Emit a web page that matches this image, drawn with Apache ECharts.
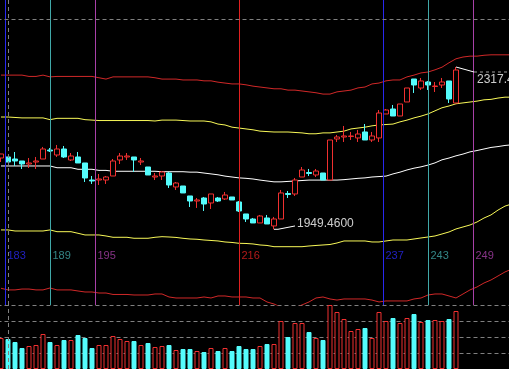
<!DOCTYPE html>
<html><head><meta charset="utf-8">
<script src="https://cdn.jsdelivr.net/npm/echarts@6/dist/echarts.min.js"></script>
<style>html,body{margin:0;padding:0;background:#000;}#c{width:509px;height:369px;}</style>
</head><body><div id="c"></div>
<script>
// ---- DATA ----
// candles: [open, close, low, high]
const candles = [
[2111.1,2120.2,2102.0,2120.5],[2113.4,2102.0,2102.0,2113.4],[2108.8,2104.3,2093.0,2124.7],[2104.3,2097.5,2086.2,2104.3],[2097.5,2099.8,2088.4,2111.1],
[2102.0,2104.3,2086.2,2113.4],[2108.8,2131.5,2108.8,2136.1],[2129.2,2127.0,2124.7,2133.8],[2117.9,2131.5,2113.4,2140.6],[2131.5,2113.4,2111.1,2138.3],
[2106.6,2115.6,2104.3,2122.4],[2113.4,2099.8,2099.8,2124.7],[2099.8,2065.8,2056.7,2099.8],[2061.2,2059.0,2052.2,2070.3],[2061.2,2063.5,2049.9,2074.8],
[2061.2,2068.0,2052.2,2070.3],[2070.3,2104.3,2070.3,2108.8],[2106.6,2115.6,2097.5,2122.4],[2113.4,2115.6,2106.6,2122.4],[2113.4,2106.6,2079.4,2113.4],
[2102.0,2104.3,2095.2,2111.1],[2090.7,2072.6,2072.6,2090.7],[2068.0,2070.3,2061.2,2077.1],[2070.3,2079.4,2061.2,2081.6],[2077.1,2049.9,2043.1,2079.4],
[2045.4,2054.4,2038.6,2056.7],[2047.6,2031.8,2031.8,2047.6],[2025.0,2013.6,2000.0,2025.0],[2013.6,2015.9,1997.8,2020.4],[2020.4,2006.8,1991.0,2022.7],
[2009.1,2029.5,1995.5,2029.5],[2020.4,2013.6,2011.4,2022.7],[2018.2,2027.2,2015.9,2034.0],[2022.7,2015.9,2015.9,2022.7],[2011.4,1991.0,1988.7,2013.6],
[1984.2,1972.8,1966.0,1984.2],[1972.8,1963.8,1963.8,1975.1],[1963.8,1979.6,1963.8,1981.9],[1975.1,1961.5,1961.5,1981.9],[1957.0,1972.8,1949.46,1977.4],
[1972.8,2031.8,1972.8,2038.6],[2030.6,2028.4,2020.4,2036.3],[2029.5,2061.2,2025.0,2065.8],[2068.0,2083.9,2068.0,2090.7],[2078.2,2076.0,2070.3,2086.2],
[2072.6,2081.6,2068.0,2086.2],[2077.1,2061.2,2061.2,2077.1],[2061.2,2151.9,2061.2,2151.9],[2154.2,2158.7,2147.4,2163.3],[2158.7,2161.0,2147.4,2183.7],
[2159.9,2161.0,2151.9,2170.1],[2156.5,2165.5,2147.4,2174.6],[2170.1,2151.9,2151.9,2188.2],[2151.9,2161.0,2147.4,2170.1],[2156.5,2213.1,2147.4,2219.9],
[2210.9,2219.9,2210.9,2222.2],[2222.2,2206.3,2206.3,2231.3],[2206.3,2233.5,2206.3,2233.5],[2238.1,2269.8,2238.1,2269.8],[2290.2,2276.6,2258.5,2290.2],
[2269.8,2285.7,2265.3,2292.5],[2283.4,2276.6,2265.3,2285.7],[2273.2,2274.3,2260.7,2283.4],[2276.6,2283.4,2269.8,2292.5],[2285.7,2244.9,2235.8,2285.7],
[2235.8,2310.6,2235.8,2317.4]
];
const volumes = [
1550,1500,1350,1050,1150,1200,1750,1350,1200,1450,
1450,1700,1550,1050,1200,1200,1650,1500,1400,1400,
1200,1300,1100,1150,1200,950,1000,1000,900,850,
1050,900,1050,900,1150,1000,1000,1150,1250,1250,
2400,1600,2300,2300,1850,1550,1450,3200,2850,2500,
1900,2000,2050,1550,2850,2400,2550,2300,2550,2750,
2350,2450,2450,2400,2500,2900
];
const bandRedUpper = [
2299,2299,2299,2299,2296,2296,2299,2295,2296,2296,
2296,2296,2296,2296,2293,2290,2295,2295,2295,2295,
2295,2295,2293,2290,2290,2290,2288,2288,2288,2286,
2286,2283,2281,2279,2279,2277,2274,2272,2270,2268,
2268,2265,2265,2263,2261,2259,2256,2256,2261,2263,
2265,2270,2272,2279,2281,2286,2288,2288,2295,2299,
2304,2306,2311,2317,2327,2336,2340,2342,2342,2344,
2345,2345,2345,2345
];
const bandYellowUpper = [
2204,2204,2203,2202,2202,2202,2202,2198,2201,2201,
2201,2201,2198,2197,2196,2196,2196,2196,2196,2196,
2196,2196,2195,2197,2197,2197,2196,2195,2195,2195,
2193,2188,2186,2181,2179,2177,2175,2172,2171,2170,
2170,2170,2169,2168,2166,2166,2168,2168,2170,2172,
2177,2179,2181,2184,2186,2187,2188,2193,2197,2202,
2206,2211,2218,2225,2229,2234,2236,2238,2240,2243,
2244,2247,2249,2249
];
const bandMiddle = [
2093,2093,2093,2093,2093,2093,2093,2093,2089,2089,
2089,2085.5,2085.5,2085.5,2083,2083,2081,2081,2081,2081,
2081,2081,2081,2080,2080,2080,2080,2079,2079,2077,
2075,2073,2070,2068,2066,2065,2063.5,2061,2059,2057,
2057,2058,2059,2060,2061,2061,2061,2061,2061,2062,
2063.5,2065,2066,2068,2069,2070,2075,2079,2084,2088,
2091,2095,2100,2107,2111,2116,2120,2125,2128,2131.5,
2135,2137,2139.5,2141
];
const bandYellowLower = [
1948,1948,1945.6,1945.6,1945.6,1945.6,1945.6,1948,1944,1944,
1944,1940.4,1936.6,1936.6,1936.6,1934.3,1931.3,1931.3,1931.3,1929.1,
1929.1,1929.1,1931.3,1932.7,1932,1931,1929,1927.5,1926.8,1925.2,
1924.1,1923,1920.7,1919.6,1917.7,1917.3,1916.2,1913.9,1912.8,1910,
1910,1910,1910,1910,1911.6,1912.8,1913.9,1915,1918.4,1923,
1923,1923,1923,1920.7,1920.7,1923,1925.2,1925.2,1925.2,1927.5,
1929.8,1932,1934.3,1938.8,1943.4,1950.2,1954.7,1959.2,1966,1975,
1982,1993,2002,2007
];
const bandRedLower = [
1815.7,1812,1812,1814,1814,1812,1812,1816.4,1812,1812,
1812,1809.6,1807.3,1807.3,1805,1805,1801.7,1801.7,1801.7,1800.5,
1800.5,1800.5,1802.8,1802.8,1796,1793.7,1793.7,1793.7,1793.7,1796,
1793.7,1798.3,1798.3,1796,1796,1796,1793.7,1793.7,1784.7,1780,
1773,1769,1771,1778,1784.7,1793.7,1796,1791.5,1789,1791.5,
1791.5,1791.5,1791.5,1789,1784.7,1787,1787,1787,1787,1791.5,
1793.7,1800.5,1802.8,1802.8,1798.3,1793.7,1802.8,1812,1818.7,1827.7,
1834.5,1843.6,1852.7,1859.5
];
const cycleLabels = ['183','189','195','216','237','243','249'];
const cyclePositions = [0.64, 7.07, 13.5, 34.07, 54.64, 61.07, 67.5];
const cycleColors = ['#2828f0','#40a8a8','#a840a8','#e02020','#2828f0','#40a8a8','#a840a8'];
const categories = Array.from({length: 74}, (_, i) => String(i));

// ---- STYLE / LAYOUT ----
const RED = '#f03030', CYAN = '#54fcfc', GRAY = '#808080';
const PRICE_MIN = 1777.8, PRICE_MAX = 2469.3, MAIN_H = 305;
const perPx = (PRICE_MAX - PRICE_MIN) / MAIN_H;
const cycleLabelLevel = PRICE_MAX - 256 * perPx;
const crossX = 1.07, crossPrice = PRICE_MAX - 19.5 * perPx;

let lowIdx = 0, highIdx = 0;
candles.forEach((c, i) => { if (c[2] < candles[lowIdx][2]) lowIdx = i; if (c[3] > candles[highIdx][3]) highIdx = i; });
const lowVal = candles[lowIdx][2], highVal = candles[highIdx][3];
const font = 'Liberation Sans';

const chart = echarts.init(document.getElementById('c'));
const bands = [
  {d: bandRedUpper, c: '#d02828'}, {d: bandYellowUpper, c: '#f8f858'}, {d: bandMiddle, c: '#ffffff'},
  {d: bandYellowLower, c: '#f8f858'}, {d: bandRedLower, c: '#d02828'}
];
const dashed = {color: GRAY, width: 1, type: [4, 3]};
const lowEnd = [lowIdx + 3.0, lowVal + 7.5];
const highEnd = [highIdx + 2.57, highVal - 5 * perPx];
chart.setOption({
  animation: false,
  backgroundColor: '#000',
  grid: [
    {left: -2.5, top: 0, width: 518, height: MAIN_H, outerBoundsMode: 'none', containLabel: false},
    {left: -2.5, top: MAIN_H, width: 518, height: 64, outerBoundsMode: 'none', containLabel: false}
  ],
  xAxis: [
    {type: 'category', gridIndex: 0, data: categories, show: false},
    {type: 'category', gridIndex: 1, data: categories, show: false},
    {type: 'value', gridIndex: 0, min: -0.5, max: 73.5, show: false},
    {type: 'value', gridIndex: 1, min: -0.5, max: 73.5, show: false}
  ],
  yAxis: [
    {type: 'value', gridIndex: 0, min: PRICE_MIN, max: PRICE_MAX, show: false, splitLine: {show: false}},
    {type: 'value', gridIndex: 1, min: 0, max: 3200, interval: 800,
     axisLabel: {show: false}, axisLine: {show: false}, axisTick: {show: false},
     splitLine: {show: true, lineStyle: dashed}}
  ],
  series: [
    ...bands.map(b => ({type: 'line', xAxisIndex: 0, yAxisIndex: 0, data: b.d, symbol: 'none', showSymbol: false,
      silent: true, z: 1, lineStyle: {color: b.c, width: 1}})),
    {type: 'candlestick', xAxisIndex: 0, yAxisIndex: 0, data: candles, barWidth: 6, z: 3,
     itemStyle: {color: '#000', color0: CYAN, borderColor: RED, borderColor0: CYAN, borderWidth: 1}},
    {type: 'bar', xAxisIndex: 1, yAxisIndex: 1, barWidth: 5, z: 3,
     data: volumes.map((v, i) => {
       const up = candles[i][1] >= candles[i][0];
       return {value: v, itemStyle: up ? {color: '#000', borderColor: RED, borderWidth: 1} : {color: CYAN, borderColor: CYAN, borderWidth: 1}};
     })},
    {type: 'scatter', xAxisIndex: 2, yAxisIndex: 0, symbolSize: 0, z: 2, silent: true,
     data: cyclePositions.map((p, i) => ({value: [p, cycleLabelLevel],
       label: {show: true, position: 'right', distance: 2, formatter: cycleLabels[i], color: cycleColors[i], fontSize: 11, fontFamily: font}})),
     markLine: {symbol: ['none', 'none'], silent: true, label: {show: false},
       data: cyclePositions.map((p, i) => ({xAxis: p, lineStyle: {color: cycleColors[i], width: 1, type: 'solid'}}))}},
    {type: 'scatter', xAxisIndex: 2, yAxisIndex: 0, symbolSize: 0, z: 5, silent: true, data: [],
     markLine: {symbol: ['none', 'none'], silent: true, label: {show: false}, lineStyle: dashed,
       data: [{xAxis: crossX}, {yAxis: crossPrice}]}},
    {type: 'scatter', xAxisIndex: 3, yAxisIndex: 1, symbolSize: 0, z: 5, silent: true, data: [],
     markLine: {symbol: ['none', 'none'], silent: true, label: {show: false}, lineStyle: dashed,
       data: [{xAxis: crossX}]}},
    // low annotation
    {type: 'line', xAxisIndex: 2, yAxisIndex: 0, symbol: 'none', z: 6, silent: true,
     lineStyle: {color: '#ffffff', width: 1},
     data: [[lowIdx, lowVal], [lowIdx + 0.57, lowVal], lowEnd]},
    {type: 'scatter', xAxisIndex: 2, yAxisIndex: 0, symbolSize: 0, z: 6, silent: true,
     data: [{value: lowEnd,
       label: {show: true, position: 'right', distance: 2, offset: [0, -2], formatter: lowVal.toFixed(4), color: '#ffffff', fontSize: 12, fontFamily: font}}]},
    // high annotation
    {type: 'line', xAxisIndex: 2, yAxisIndex: 0, symbol: 'none', z: 6, silent: true,
     lineStyle: {color: '#ffffff', width: 1},
     data: [[highIdx, highVal], highEnd]},
    {type: 'line', xAxisIndex: 2, yAxisIndex: 0, symbol: 'none', z: 6, silent: true,
     lineStyle: {color: '#a0a0a0', width: 1, type: [3, 3]},
     data: [highEnd, [73.5, highEnd[1]]]},
    {type: 'scatter', xAxisIndex: 2, yAxisIndex: 0, symbolSize: 0, z: 6, silent: true,
     data: [{value: highEnd,
       label: {show: true, position: 'right', distance: 3, offset: [0, 8], formatter: highVal.toFixed(4), color: '#ffffff', fontSize: 12, fontFamily: font}}]}
  ]
});
</script>
</body></html>
